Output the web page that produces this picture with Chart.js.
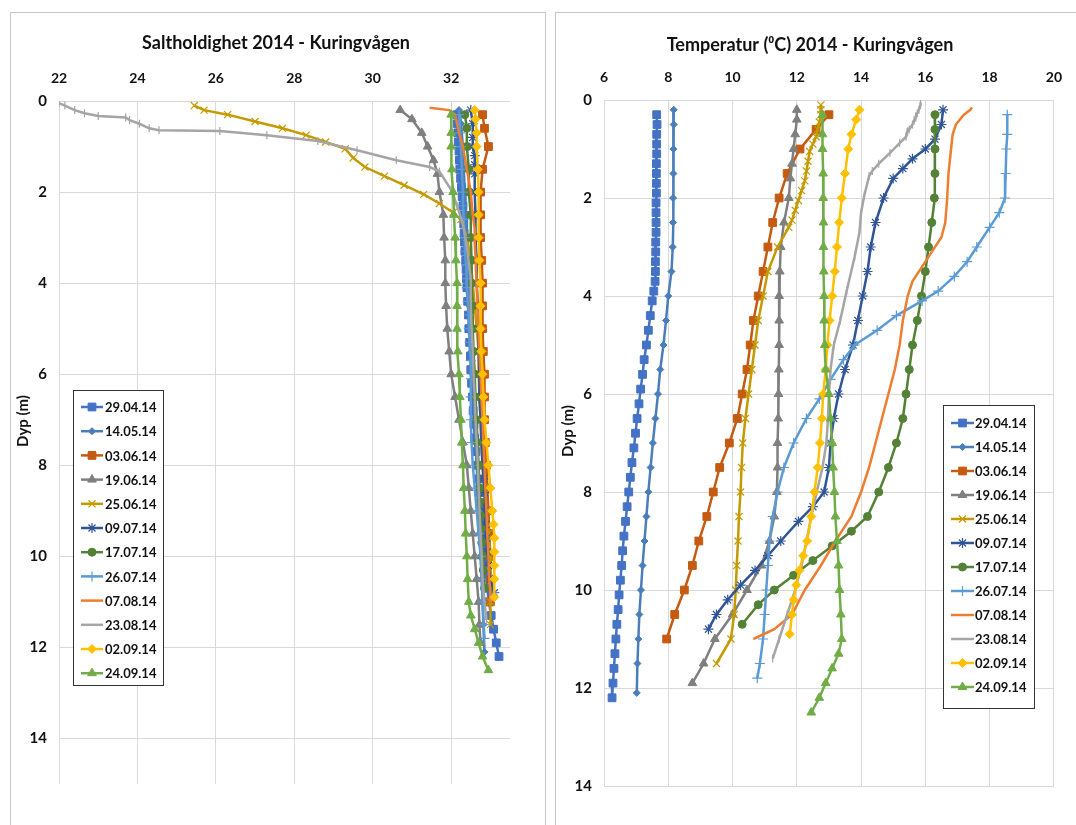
<!DOCTYPE html>
<html>
<head>
<meta charset="utf-8">
<title>Kuringvågen 2014</title>
<script src="https://cdn.jsdelivr.net/npm/chart.js@4.4.1/dist/chart.umd.min.js"></script>
<style>
    body { margin: 0; background: #fff; width: 1076px; height: 825px; overflow: hidden; position: relative; }
    .panel { position: absolute; border: 1px solid #c6c6c6; background: #fff; }
    #panel-sal { left: 10px; top: 12px; width: 534px; height: 840px; }
    #panel-temp { left: 555px; top: 12px; width: 540px; height: 840px; }
    canvas { position: absolute; }
    #salChart { left: 11px; top: 13px; }
    #tempChart { left: 556px; top: 13px; }
</style>
</head>
<body>
<div class="panel" id="panel-sal"></div>
<div class="panel" id="panel-temp"></div>
<canvas id="salChart" width="533" height="812"></canvas>
<canvas id="tempChart" width="520" height="812"></canvas>

<script>
/* ==================== DATA ==================== */

const SERIES_LABELS = ['29.04.14', '14.05.14', '03.06.14', '19.06.14', '25.06.14', '09.07.14',
                       '17.07.14', '26.07.14', '07.08.14', '23.08.14', '02.09.14', '24.09.14'];
const SERIES_COLORS = ['#4472C4', '#4A7EBB', '#C55A11', '#7F7F7F', '#C49A00', '#2F5597',
                       '#538135', '#5B9BD5', '#ED7D31', '#A5A5A5', '#FFC000', '#70AD47'];
const POINT_STYLES = ['rect', 'rectRot', 'rect', 'triangle', 'crossRot', 'star',
                      'circle', 'cross', false, 'line', 'rectRot', 'triangle'];

const SAL_TICKS = [22, 24, 26, 28, 30, 32];
const TEMP_TICKS = [6, 8, 10, 12, 14, 16, 18, 20];
const DEPTH_TICKS = [0, 2, 4, 6, 8, 10, 12, 14];

// 29.04.14
const DEPTH_2904 = [0.3, 0.5, 0.7, 0.9, 1.1, 1.3, 1.5, 1.7, 1.9, 2.1, 2.3, 2.5, 2.7, 2.9, 3.1, 3.3, 3.5, 3.7, 3.9, 4.1,
                    4.4, 4.7, 5.0, 5.3, 5.6, 5.9, 6.2, 6.5, 6.8, 7.1, 7.4, 7.7, 8.0, 8.3, 8.6, 8.9, 9.2, 9.5, 9.8,
                    10.1, 10.4, 10.7, 11.0, 11.3, 11.6, 11.9, 12.2];
const SAL_2904 = [32.15, 32.16, 32.17, 32.18, 32.2, 32.21, 32.22, 32.24, 32.26, 32.28, 32.3, 32.31, 32.32, 32.33, 32.34,
                  32.35, 32.37, 32.38, 32.39, 32.4, 32.42, 32.44, 32.45, 32.47, 32.49, 32.5, 32.52, 32.54, 32.56, 32.58,
                  32.6, 32.63, 32.66, 32.69, 32.72, 32.75, 32.78, 32.8, 32.83, 32.86, 32.88, 32.92, 32.96, 33.02, 33.08,
                  33.15, 33.22];
const TEMP_2904 = [7.64, 7.65, 7.64, 7.64, 7.64, 7.63, 7.63, 7.63, 7.63, 7.62, 7.62, 7.62, 7.62, 7.61, 7.61, 7.6, 7.6,
                   7.59, 7.55, 7.5, 7.44, 7.38, 7.32, 7.25, 7.2, 7.14, 7.09, 7.03, 6.98, 6.93, 6.87, 6.82, 6.77, 6.72,
                   6.67, 6.62, 6.58, 6.55, 6.51, 6.47, 6.44, 6.4, 6.37, 6.34, 6.31, 6.28, 6.25];

// 14.05.14
const DEPTH_1405 = [0.2, 0.5, 1, 1.5, 2, 2.5, 3, 3.5, 4, 4.5, 5, 5.5, 6, 6.5, 7, 7.5, 8, 8.5, 9, 9.5, 10, 10.5, 11, 11.5, 12.1];
const SAL_1405 = [32.2, 32.25, 32.3, 32.32, 32.35, 32.38, 32.4, 32.42, 32.45, 32.47, 32.5, 32.52, 32.55, 32.57, 32.6,
                  32.62, 32.65, 32.67, 32.7, 32.72, 32.75, 32.78, 32.8, 32.82, 32.85];
const TEMP_1405 = [8.17, 8.17, 8.16, 8.16, 8.15, 8.15, 8.14, 8.1, 8.0, 7.93, 7.85, 7.75, 7.68, 7.6, 7.52, 7.45, 7.38,
                   7.32, 7.26, 7.2, 7.15, 7.1, 7.07, 7.04, 7.02];

// 03.06.14
const DEPTH_0306 = [0.3, 0.6, 1.0, 1.5, 2, 2.5, 3, 3.5, 4, 4.5, 5, 5.5, 6, 6.5, 7, 7.5, 8, 8.5, 9, 9.5, 10, 10.5, 11];
const SAL_0306 = [32.8, 32.85, 32.95, 32.8, 32.75, 32.75, 32.75, 32.78, 32.8, 32.8, 32.8, 32.82, 32.85, 32.85, 32.85,
                  32.87, 32.9, 32.92, 32.95, 32.97, 33.0, 33.0, 33.0];
const TEMP_0306 = [13.0, 12.6, 12.1, 11.7, 11.45, 11.25, 11.1, 10.95, 10.8, 10.65, 10.55, 10.45, 10.3, 10.15, 9.9, 9.6,
                   9.4, 9.2, 8.95, 8.75, 8.5, 8.2, 7.95];

// 19.06.14
const DEPTH_1906 = [0.2, 0.4, 0.7, 1, 1.3, 1.6, 2, 2.5, 3, 3.5, 4, 4.5, 5, 5.5, 6, 6.5, 7, 7.5, 8, 8.5, 9, 9.5, 10,
                    10.5, 11, 11.5, 11.9];
const SAL_1906 = [30.7, 31.0, 31.25, 31.4, 31.55, 31.65, 31.7, 31.8, 31.82, 31.85, 31.85, 31.87, 31.9, 31.95, 32.0,
                  32.1, 32.2, 32.3, 32.4, 32.45, 32.5, 32.55, 32.6, 32.65, 32.7, 32.72, 32.75];
const TEMP_1906 = [12.0, 12.0, 11.95, 11.9, 11.85, 11.8, 11.75, 11.6, 11.5, 11.47, 11.45, 11.45, 11.45, 11.44, 11.43,
                   11.42, 11.4, 11.4, 11.38, 11.3, 11.15, 10.9, 10.45, 10.0, 9.45, 9.1, 8.75];

// 25.06.14
const DEPTH_2506 = [0.1, 0.2, 0.3, 0.45, 0.6, 0.75, 0.9, 1.05, 1.25, 1.45, 1.65, 1.85, 2.05, 2.25, 2.45, 2.6, 3, 3.5,
                    4, 4.5, 5, 5.5, 6, 6.5, 7, 7.5, 8, 8.5, 9, 9.5, 10, 10.5, 11, 11.5];
const SAL_2506 = [25.45, 25.7, 26.3, 27.0, 27.7, 28.3, 28.8, 29.3, 29.5, 29.8, 30.3, 30.8, 31.3, 31.7, 32.05, 32.25,
                  32.4, 32.5, 32.55, 32.6, 32.65, 32.7, 32.7, 32.72, 32.75, 32.77, 32.8, 32.85, 32.9, 32.95, 33.0,
                  33.0, 33.0, 33.0];
const TEMP_2506 = [12.75, 12.75, 12.75, 12.7, 12.65, 12.6, 12.5, 12.4, 12.35, 12.3, 12.25, 12.15, 12.05, 11.95, 11.85,
                   11.75, 11.4, 11.1, 10.95, 10.8, 10.7, 10.6, 10.5, 10.4, 10.32, 10.28, 10.25, 10.2, 10.17, 10.13,
                   10.1, 10.05, 9.95, 9.5];

// 09.07.14
const DEPTH_0907 = [0.2, 0.5, 0.8, 1, 1.2, 1.4, 1.6, 2, 2.5, 3, 3.5, 4, 4.5, 5, 5.5, 6, 6.5, 7, 7.5, 8, 8.3, 8.6, 9,
                    9.3, 9.6, 9.9, 10.2, 10.5, 10.8];
const SAL_0907 = [32.5, 32.55, 32.55, 32.55, 32.6, 32.6, 32.6, 32.6, 32.62, 32.62, 32.65, 32.65, 32.68, 32.7, 32.7,
                  32.72, 32.72, 32.75, 32.77, 32.8, 32.82, 32.85, 32.85, 32.87, 32.9, 32.92, 32.95, 33.0, 33.1];
const TEMP_0907 = [16.55, 16.5, 16.3, 16.0, 15.6, 15.3, 15.0, 14.7, 14.45, 14.3, 14.2, 14.05, 13.9, 13.75, 13.5, 13.3,
                   13.15, 13.05, 13.0, 12.85, 12.5, 12.05, 11.5, 11.1, 10.7, 10.25, 9.85, 9.5, 9.25];

// 17.07.14
const DEPTH_1707 = [0.3, 0.6, 1, 1.5, 2, 2.5, 3, 3.5, 4, 4.5, 5, 5.5, 6, 6.5, 7, 7.5, 8, 8.5, 8.8, 9.1, 9.4, 9.7, 10,
                    10.3, 10.7];
const SAL_1707 = [32.35, 32.4, 32.4, 32.45, 32.45, 32.5, 32.5, 32.52, 32.52, 32.55, 32.55, 32.57, 32.6, 32.62, 32.65,
                  32.67, 32.7, 32.72, 32.73, 32.75, 32.77, 32.78, 32.8, 32.82, 32.85];
const TEMP_1707 = [16.3, 16.3, 16.3, 16.3, 16.28, 16.2, 16.1, 16.0, 15.88, 15.75, 15.6, 15.5, 15.4, 15.3, 15.1, 14.85,
                   14.55, 14.2, 13.7, 13.1, 12.5, 11.9, 11.3, 10.8, 10.3];

// 26.07.14
const DEPTH_2607 = [0.3, 0.7, 1, 1.5, 2, 2.3, 2.6, 3, 3.3, 3.6, 3.9, 4.1, 4.4, 4.7, 5, 5.3, 5.7, 6.1, 6.5, 7, 7.5, 8,
                    8.5, 9, 9.5, 10, 10.5, 11, 11.5, 11.8];
const SAL_2607 = [32.2, 32.22, 32.25, 32.27, 32.3, 32.3, 32.32, 32.35, 32.35, 32.38, 32.4, 32.4, 32.42, 32.45, 32.45,
                  32.47, 32.5, 32.5, 32.5, 32.5, 32.52, 32.55, 32.6, 32.65, 32.7, 32.75, 32.78, 32.8, 32.83, 32.85];
const TEMP_2607 = [18.55, 18.55, 18.52, 18.5, 18.48, 18.3, 18.0, 17.6, 17.3, 16.9, 16.4, 15.9, 15.1, 14.5, 13.8, 13.45,
                   13.05, 12.7, 12.3, 11.9, 11.6, 11.4, 11.25, 11.15, 11.1, 11.05, 11.0, 10.95, 10.85, 10.77];

// 07.08.14
const DEPTH_0708 = [0.15, 0.2, 0.3, 0.5, 0.7, 1, 1.5, 2, 2.5, 2.8, 3.1, 3.4, 3.7, 4, 4.5, 5, 5.5, 6, 6.5, 7, 7.5, 8,
                    8.5, 9, 9.5, 10, 10.5, 10.8, 11];
const SAL_0708 = [31.45, 31.95, 32.1, 32.15, 32.2, 32.3, 32.4, 32.5, 32.55, 32.6, 32.6, 32.62, 32.63, 32.65, 32.67,
                  32.7, 32.72, 32.75, 32.77, 32.8, 32.82, 32.85, 32.87, 32.9, 32.92, 32.95, 32.97, 33.0, 33.0];
const TEMP_0708 = [17.45, 17.4, 17.2, 16.95, 16.85, 16.8, 16.72, 16.68, 16.62, 16.5, 16.2, 15.9, 15.6, 15.45, 15.3,
                   15.2, 15.05, 14.85, 14.65, 14.45, 14.25, 14.0, 13.7, 13.2, 12.75, 12.25, 11.85, 11.3, 10.65];

// 23.08.14
const DEPTH_2308 = [0.05, 0.1, 0.2, 0.27, 0.33, 0.36, 0.42, 0.5, 0.6, 0.64, 0.66, 0.75, 0.88, 1.08, 1.3, 1.45, 1.55,
                    1.95, 2.3, 2.7, 3.2, 3.9, 4.5, 5, 5.5, 6, 6.5, 7, 7.5, 8, 8.5, 9, 9.5, 10, 10.5, 11, 11.4];
const SAL_2308 = [22.0, 22.15, 22.4, 22.65, 23.0, 23.7, 23.8, 24.05, 24.3, 24.55, 26.1, 27.3, 28.6, 29.6, 30.6, 31.45,
                  31.7, 32.0, 32.15, 32.3, 32.4, 32.5, 32.5, 32.52, 32.55, 32.57, 32.6, 32.62, 32.65, 32.68, 32.7,
                  32.72, 32.75, 32.78, 32.8, 32.85, 32.9];
const TEMP_2308 = [15.85, 15.85, 15.8, 15.75, 15.7, 15.7, 15.65, 15.6, 15.5, 15.45, 15.43, 15.4, 15.2, 14.9, 14.55,
                   14.35, 14.25, 14.1, 14.0, 13.95, 13.8, 13.55, 13.35, 13.15, 13.05, 13.0, 12.97, 12.92, 12.8, 12.62,
                   12.45, 12.3, 12.15, 11.95, 11.7, 11.45, 11.25];

// 02.09.14
const DEPTH_0209 = [0.2, 0.4, 0.7, 1, 1.5, 2, 2.5, 3, 3.5, 4, 4.5, 5, 5.5, 6, 6.5, 7, 7.5, 8, 8.5, 9, 9.3, 9.6, 9.9,
                    10.2, 10.5, 10.9];
const SAL_0209 = [32.6, 32.62, 32.65, 32.65, 32.68, 32.7, 32.7, 32.7, 32.72, 32.75, 32.75, 32.75, 32.77, 32.8, 32.82,
                  32.85, 32.9, 32.95, 33.0, 33.05, 33.08, 33.1, 33.1, 33.1, 33.1, 33.1];
const TEMP_0209 = [13.95, 13.85, 13.7, 13.6, 13.5, 13.4, 13.32, 13.25, 13.18, 13.1, 13.02, 12.95, 12.9, 12.82, 12.78,
                   12.72, 12.65, 12.55, 12.45, 12.32, 12.2, 12.08, 11.98, 11.9, 11.85, 11.78];

// 24.09.14
const DEPTH_2409 = [0.3, 0.7, 1, 1.5, 2, 2.5, 3, 3.5, 4, 4.5, 5, 5.5, 6, 6.5, 7, 7.5, 8, 8.5, 9, 9.5, 10, 10.5, 11,
                    11.3, 11.6, 11.9, 12.2, 12.5];
const SAL_2409 = [32.0, 32.0, 32.0, 32.02, 32.05, 32.07, 32.1, 32.12, 32.15, 32.15, 32.15, 32.17, 32.2, 32.22, 32.25,
                  32.27, 32.3, 32.32, 32.35, 32.37, 32.4, 32.42, 32.45, 32.5, 32.6, 32.7, 32.8, 32.95];
const TEMP_2409 = [12.8, 12.8, 12.8, 12.82, 12.82, 12.83, 12.83, 12.84, 12.85, 12.85, 12.87, 12.9, 13.0, 13.05, 13.1,
                   13.13, 13.17, 13.2, 13.25, 13.3, 13.33, 13.37, 13.4, 13.3, 13.1, 12.9, 12.7, 12.45];

const DEPTHS = [DEPTH_2904, DEPTH_1405, DEPTH_0306, DEPTH_1906, DEPTH_2506, DEPTH_0907,
                DEPTH_1707, DEPTH_2607, DEPTH_0708, DEPTH_2308, DEPTH_0209, DEPTH_2409];
const SALINITY = [SAL_2904, SAL_1405, SAL_0306, SAL_1906, SAL_2506, SAL_0907,
                  SAL_1707, SAL_2607, SAL_0708, SAL_2308, SAL_0209, SAL_2409];
const TEMPERATURE = [TEMP_2904, TEMP_1405, TEMP_0306, TEMP_1906, TEMP_2506, TEMP_0907,
                     TEMP_1707, TEMP_2607, TEMP_0708, TEMP_2308, TEMP_0209, TEMP_2409];

/* ==================== STYLE ==================== */

const FONT_FAMILY = 'Lato, "Liberation Sans", sans-serif';
const GRID_COLOR = '#d9d9d9';
const TEXT_COLOR = '#111';

// marker size per style, roughly like the Excel defaults
function markerRadius(style, i) {
    if (style === 'rect') return 5.5;
    if (style === 'rectRot') return i === 1 ? 3.5 : 4.5;
    if (style === 'triangle') return 5;
    if (style === 'circle') return 4;
    if (style === 'line') return 4;
    return 5;
}

function buildDatasets(values) {
    return SERIES_LABELS.map((label, i) => {
        const style = POINT_STYLES[i];
        const color = SERIES_COLORS[i];
        const strokeOnly = ['crossRot', 'star', 'cross', 'line'].includes(style);
        return {
            label: label,
            data: DEPTHS[i].map((d, k) => ({ x: values[i][k], y: d })),
            showLine: true,
            borderColor: color,
            backgroundColor: color,
            borderWidth: 2.5,
            pointStyle: style,
            pointRotation: style === 'line' ? 90 : 0,
            pointRadius: style ? markerRadius(style, i) : 0,
            pointBackgroundColor: color,
            pointBorderColor: color,
            pointBorderWidth: strokeOnly ? 1.2 : 1,
            legendMarker: style !== 'line',
            order: SERIES_LABELS.length - i,
            tension: 0
        };
    });
}

// draws the title, the depth axis title and the framed legend inside the plot
const panelDecor = {
    id: 'panelDecor',
    afterDraw(chart, args, opts) {
        const ctx = chart.ctx;
        ctx.save();
        ctx.fillStyle = TEXT_COLOR;
        ctx.font = 'bold 18px ' + FONT_FAMILY;
        ctx.textAlign = 'center';
        ctx.textBaseline = 'middle';
        ctx.fillText(opts.title, opts.titleX, opts.titleY);

        // rotated "Dyp (m)"
        ctx.save();
        ctx.translate(opts.axisTitleX, opts.axisTitleY);
        ctx.rotate(-Math.PI / 2);
        ctx.font = 'bold 15px ' + FONT_FAMILY;
        ctx.fillText('Dyp (m)', 0, 0);
        ctx.restore();

        const L = opts.legend;
        ctx.fillStyle = '#fff';
        ctx.fillRect(L.x, L.y, L.w, L.h);
        ctx.strokeStyle = '#333';
        ctx.lineWidth = 1;
        ctx.strokeRect(L.x + 0.5, L.y + 0.5, L.w, L.h);

        chart.data.datasets.forEach((ds, i) => {
            const y = L.firstRow + i * L.rowH;
            ctx.strokeStyle = ds.borderColor;
            ctx.lineWidth = 2.5;
            ctx.beginPath();
            ctx.moveTo(L.lineX0, y);
            ctx.lineTo(L.lineX1, y);
            ctx.stroke();
            if (ds.pointStyle && ds.legendMarker) {
                ctx.fillStyle = ds.pointBackgroundColor;
                ctx.strokeStyle = ds.pointBorderColor;
                ctx.lineWidth = ds.pointBorderWidth;
                Chart.helpers.drawPoint(ctx, {
                    pointStyle: ds.pointStyle,
                    radius: ds.pointRadius,
                    rotation: 0,
                    borderWidth: ds.pointBorderWidth
                }, (L.lineX0 + L.lineX1) / 2, y);
            }
            ctx.fillStyle = TEXT_COLOR;
            ctx.font = 'bold 13px ' + FONT_FAMILY;
            ctx.textAlign = 'left';
            ctx.textBaseline = 'middle';
            ctx.fillText(ds.label, L.textX, y + 1);
        });
        ctx.restore();
    }
};

function makeChart(canvasId, cfg) {
    const ctx = document.getElementById(canvasId);
    return new Chart(ctx.getContext('2d'), {
        type: 'scatter',
        data: { datasets: buildDatasets(cfg.values) },
        plugins: [panelDecor],
        options: {
            responsive: false,
            animation: false,
            devicePixelRatio: 1,
            layout: { padding: cfg.padding },
            plugins: {
                legend: { display: false },
                tooltip: { enabled: false },
                panelDecor: cfg.decor
            },
            scales: {
                x: {
                    type: 'linear',
                    position: 'top',
                    min: cfg.xMin,
                    max: cfg.xMax,
                    afterBuildTicks: (scale) => { scale.ticks = cfg.xTicks.map(v => ({ value: v })); },
                    afterFit: (scale) => { scale.height = 30; },
                    grid: { color: GRID_COLOR, lineWidth: 1, drawTicks: false },
                    border: { display: false },
                    ticks: {
                        padding: 14,
                        color: TEXT_COLOR,
                        font: { family: FONT_FAMILY, size: 14, weight: 'bold' }
                    }
                },
                y: {
                    type: 'linear',
                    reverse: true,
                    min: 0,
                    max: cfg.yMax,
                    afterBuildTicks: (scale) => { scale.ticks = DEPTH_TICKS.map(v => ({ value: v })); },
                    afterFit: (scale) => { scale.width = 48; },
                    grid: { color: GRID_COLOR, lineWidth: 1, drawTicks: false },
                    border: { display: false },
                    ticks: {
                        padding: 12,
                        color: TEXT_COLOR,
                        font: { family: FONT_FAMILY, size: 15, weight: 'bold' }
                    }
                }
            }
        }
    });
}

// Salinity panel: plot area 59..510 x 101..784 on the page
makeChart('salChart', {
    values: SALINITY,
    xMin: 22, xMax: 33.5, xTicks: SAL_TICKS, yMax: 15,
    padding: { left: 0, right: 34, top: 58, bottom: 41 },
    decor: {
        title: 'Saltholdighet 2014 - Kuringvågen', titleX: 265, titleY: 30,
        axisTitleX: 12, axisTitleY: 408,
        legend: { x: 62, y: 377, w: 90, h: 295, firstRow: 394, rowH: 24.2, lineX0: 70, lineX1: 92, textX: 94 }
    }
});

// Temperature panel: plot area 604..1056 x 100..786 on the page
makeChart('tempChart', {
    values: TEMPERATURE,
    xMin: 6, xMax: 20, xTicks: TEMP_TICKS, yMax: 14,
    padding: { left: 0, right: 20, top: 57, bottom: 39 },
    decor: {
        title: 'Temperatur (⁰C) 2014 - Kuringvågen', titleX: 254, titleY: 32,
        axisTitleX: 12, axisTitleY: 418,
        legend: { x: 387, y: 392, w: 91, h: 303, firstRow: 410, rowH: 24, lineX0: 395, lineX1: 418, textX: 419 }
    }
});
</script>
</body>
</html>
